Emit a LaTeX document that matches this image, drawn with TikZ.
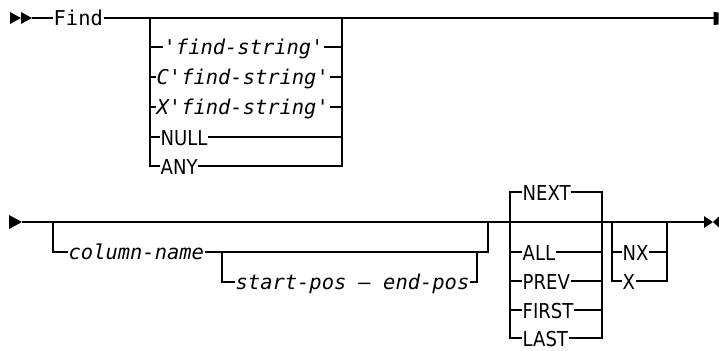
\documentclass[tikz,border=0pt]{standalone}
\usepackage{fontspec}
\setmonofont{DejaVu Sans Mono}
\newfontfamily\kwfont[FakeStretch=0.88]{DejaVu Sans}
\begin{document}
\begin{tikzpicture}[x=1bp,y=-1bp,line width=1.4bp,
  mono/.style={anchor=west,inner sep=0pt,text height=15bp,text depth=0bp,
    font=\fontsize{20.5}{24}\selectfont\ttfamily},
  var/.style={anchor=west,inner sep=0pt,text height=15bp,text depth=0bp,
    font=\fontsize{20.5}{24}\selectfont\ttfamily\itshape},
  kw/.style={anchor=west,inner sep=0pt,text height=16bp,text depth=0bp,
    font=\fontsize{20.6}{24}\selectfont\kwfont}]
\useasboundingbox (0,0) rectangle (719,350);

% ---------- line 1 ----------
\fill (10,12) -- (21,18) -- (10,24) -- cycle;
\fill (21,12) -- (32,18) -- (21,24) -- cycle;
\coordinate (st1) at (32,18);
\coordinate (en1) at (714,18);
\fill (713.5,12) -- (718.5,12.5) -- (718.5,24.5) -- (713.5,25) -- cycle;
\node[mono] (find) at (53,18) {Find};
\draw (st1) -- (find.west);
\draw (find.east) -- (en1);

\coordinate (b1l) at (150,18);
\coordinate (b1r) at (342,18);
\node[var] (q1) at (163,47) {'find-string'};
\node[var] (q2) at (156,77) {C'find-string'};
\node[var] (q3) at (156,107) {X'find-string'};
\node[kw] (null) at (160,137) {NULL};
\node[kw] (any) at (160,166) {ANY};
\draw (b1l) |- (any.west);
\draw (any.east) -| (b1r);
\foreach \n in {q1,q2,q3,null}{
  \draw (\n.west -| b1l) -- (\n.west);
  \draw (\n.east) -- (\n.east -| b1r);
}

% ---------- line 2 ----------
\fill (9,215) -- (22,222) -- (9,229) -- cycle;
\coordinate (st2) at (22,222);
\coordinate (en2) at (704,222);
\draw (st2) -- (en2);
\fill (704,216) -- (713,222) -- (704,228) -- cycle;
\fill (719,216.5) -- (713,222) -- (719,227.5) -- cycle;

\coordinate (c1) at (53,222);
\coordinate (c2) at (488,222);
\node[var] (col) at (68,252) {column-name};
\draw (c1) |- (col.west);
\draw (col.east) -| (c2);

\coordinate (s1) at (222,252);
\coordinate (s2) at (477,252);
\node[var] (sp) at (235,282) {start-pos — end-pos};
\draw (s1) |- (sp.west);
\draw (sp.east) -| (s2);

\coordinate (nl) at (510,222);
\coordinate (nr) at (602,222);
\node[kw] (next) at (522,192) {NEXT};
\node[kw] (all) at (522,252) {ALL};
\node[kw] (prev) at (522,281) {PREV};
\node[kw] (first) at (522,310) {FIRST};
\node[kw] (last) at (522,338) {LAST};
\draw (next.west) -| (nl);
\draw (last.west) -| (nl);
\draw (next.east) -| (nr);
\draw (last.east) -| (nr);
\foreach \n in {all,prev,first}{
  \draw (\n.west -| nl) -- (\n.west);
  \draw (\n.east) -- (\n.east -| nr);
}

\coordinate (xl) at (612,222);
\coordinate (xr) at (667,222);
\node[kw] (nx) at (622,252) {NX};
\node[kw] (xx) at (622,281) {X};
\draw (xl) |- (xx.west);
\draw (xx.east) -| (xr);
\draw (nx.west -| xl) -- (nx.west);
\draw (nx.east) -- (nx.east -| xr);
\end{tikzpicture}
\end{document}
